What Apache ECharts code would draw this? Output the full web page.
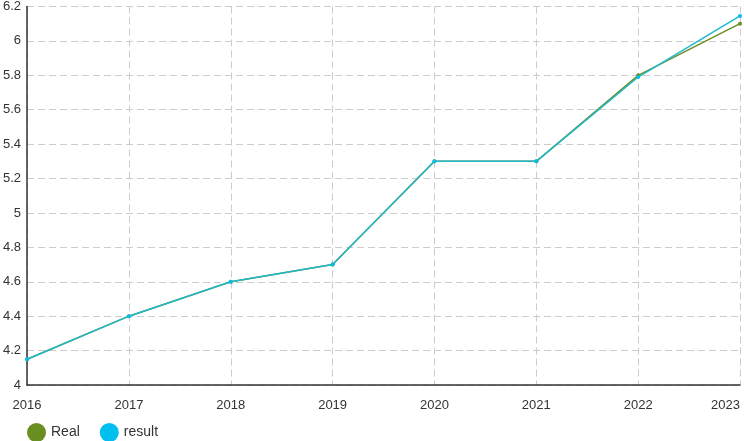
<!DOCTYPE html>
<html><head><meta charset="utf-8">
<script src="https://cdn.jsdelivr.net/npm/echarts@6/dist/echarts.min.js"></script>
<style>html,body{margin:0;padding:0;background:#fff}#c{width:744px;height:441px}</style>
</head><body><div id="c"></div>
<script>
var years = ['2016','2017','2018','2019','2020','2021','2022','2023'];
var realValues = [4.15, 4.4, 4.6, 4.7, 5.3, 5.3, 5.8, 6.1];
var resultValues = [4.15, 4.4, 4.6, 4.7, 5.3, 5.3, 5.79, 6.145];
var chart = echarts.init(document.getElementById('c'));
var font = 'Liberation Sans, Arial, sans-serif';
chart.setOption({
  animation: false,
  grid: {left: 24, right: 4, top: 4, bottom: 56, containLabel: false},
  legend: {
    left: 27, top: 423, padding: 0, itemWidth: 19, itemHeight: 19, itemGap: 20,
    textStyle: {fontSize: 14, color: '#333', fontFamily: font},
    data: [{name: 'Real', icon: 'circle'}, {name: 'result', icon: 'circle'}]
  },
  xAxis: {
    type: 'category', data: years, boundaryGap: false,
    axisLine: {lineStyle: {color: '#333', width: 1.5}},
    axisTick: {show: false},
    axisLabel: {color: '#333', fontSize: 13, fontFamily: font, margin: 14, alignMaxLabel: 'right'},
    splitLine: {show: true, lineStyle: {type: [7, 4], color: '#ccc'}}
  },
  yAxis: {
    type: 'value', min: 4, max: 6.2, interval: 0.2,
    axisLine: {show: true, lineStyle: {color: '#333', width: 1.5}},
    axisTick: {show: false},
    axisLabel: {color: '#333', fontSize: 13, fontFamily: font, margin: 6,
      formatter: function(v){ return String(Math.round(v*10)/10); }},
    splitLine: {show: true, lineStyle: {type: [7, 4], color: '#ccc'}}
  },
  series: [
    {name: 'Real', type: 'line', data: realValues, color: '#6b8e23',
     symbol: 'circle', symbolSize: 4, lineStyle: {width: 1.5}},
    {name: 'result', type: 'line', data: resultValues, color: '#00bfef',
     symbol: 'circle', symbolSize: 4, lineStyle: {width: 1.5, color: '#20b8cc'}}
  ]
});
</script></body></html>
